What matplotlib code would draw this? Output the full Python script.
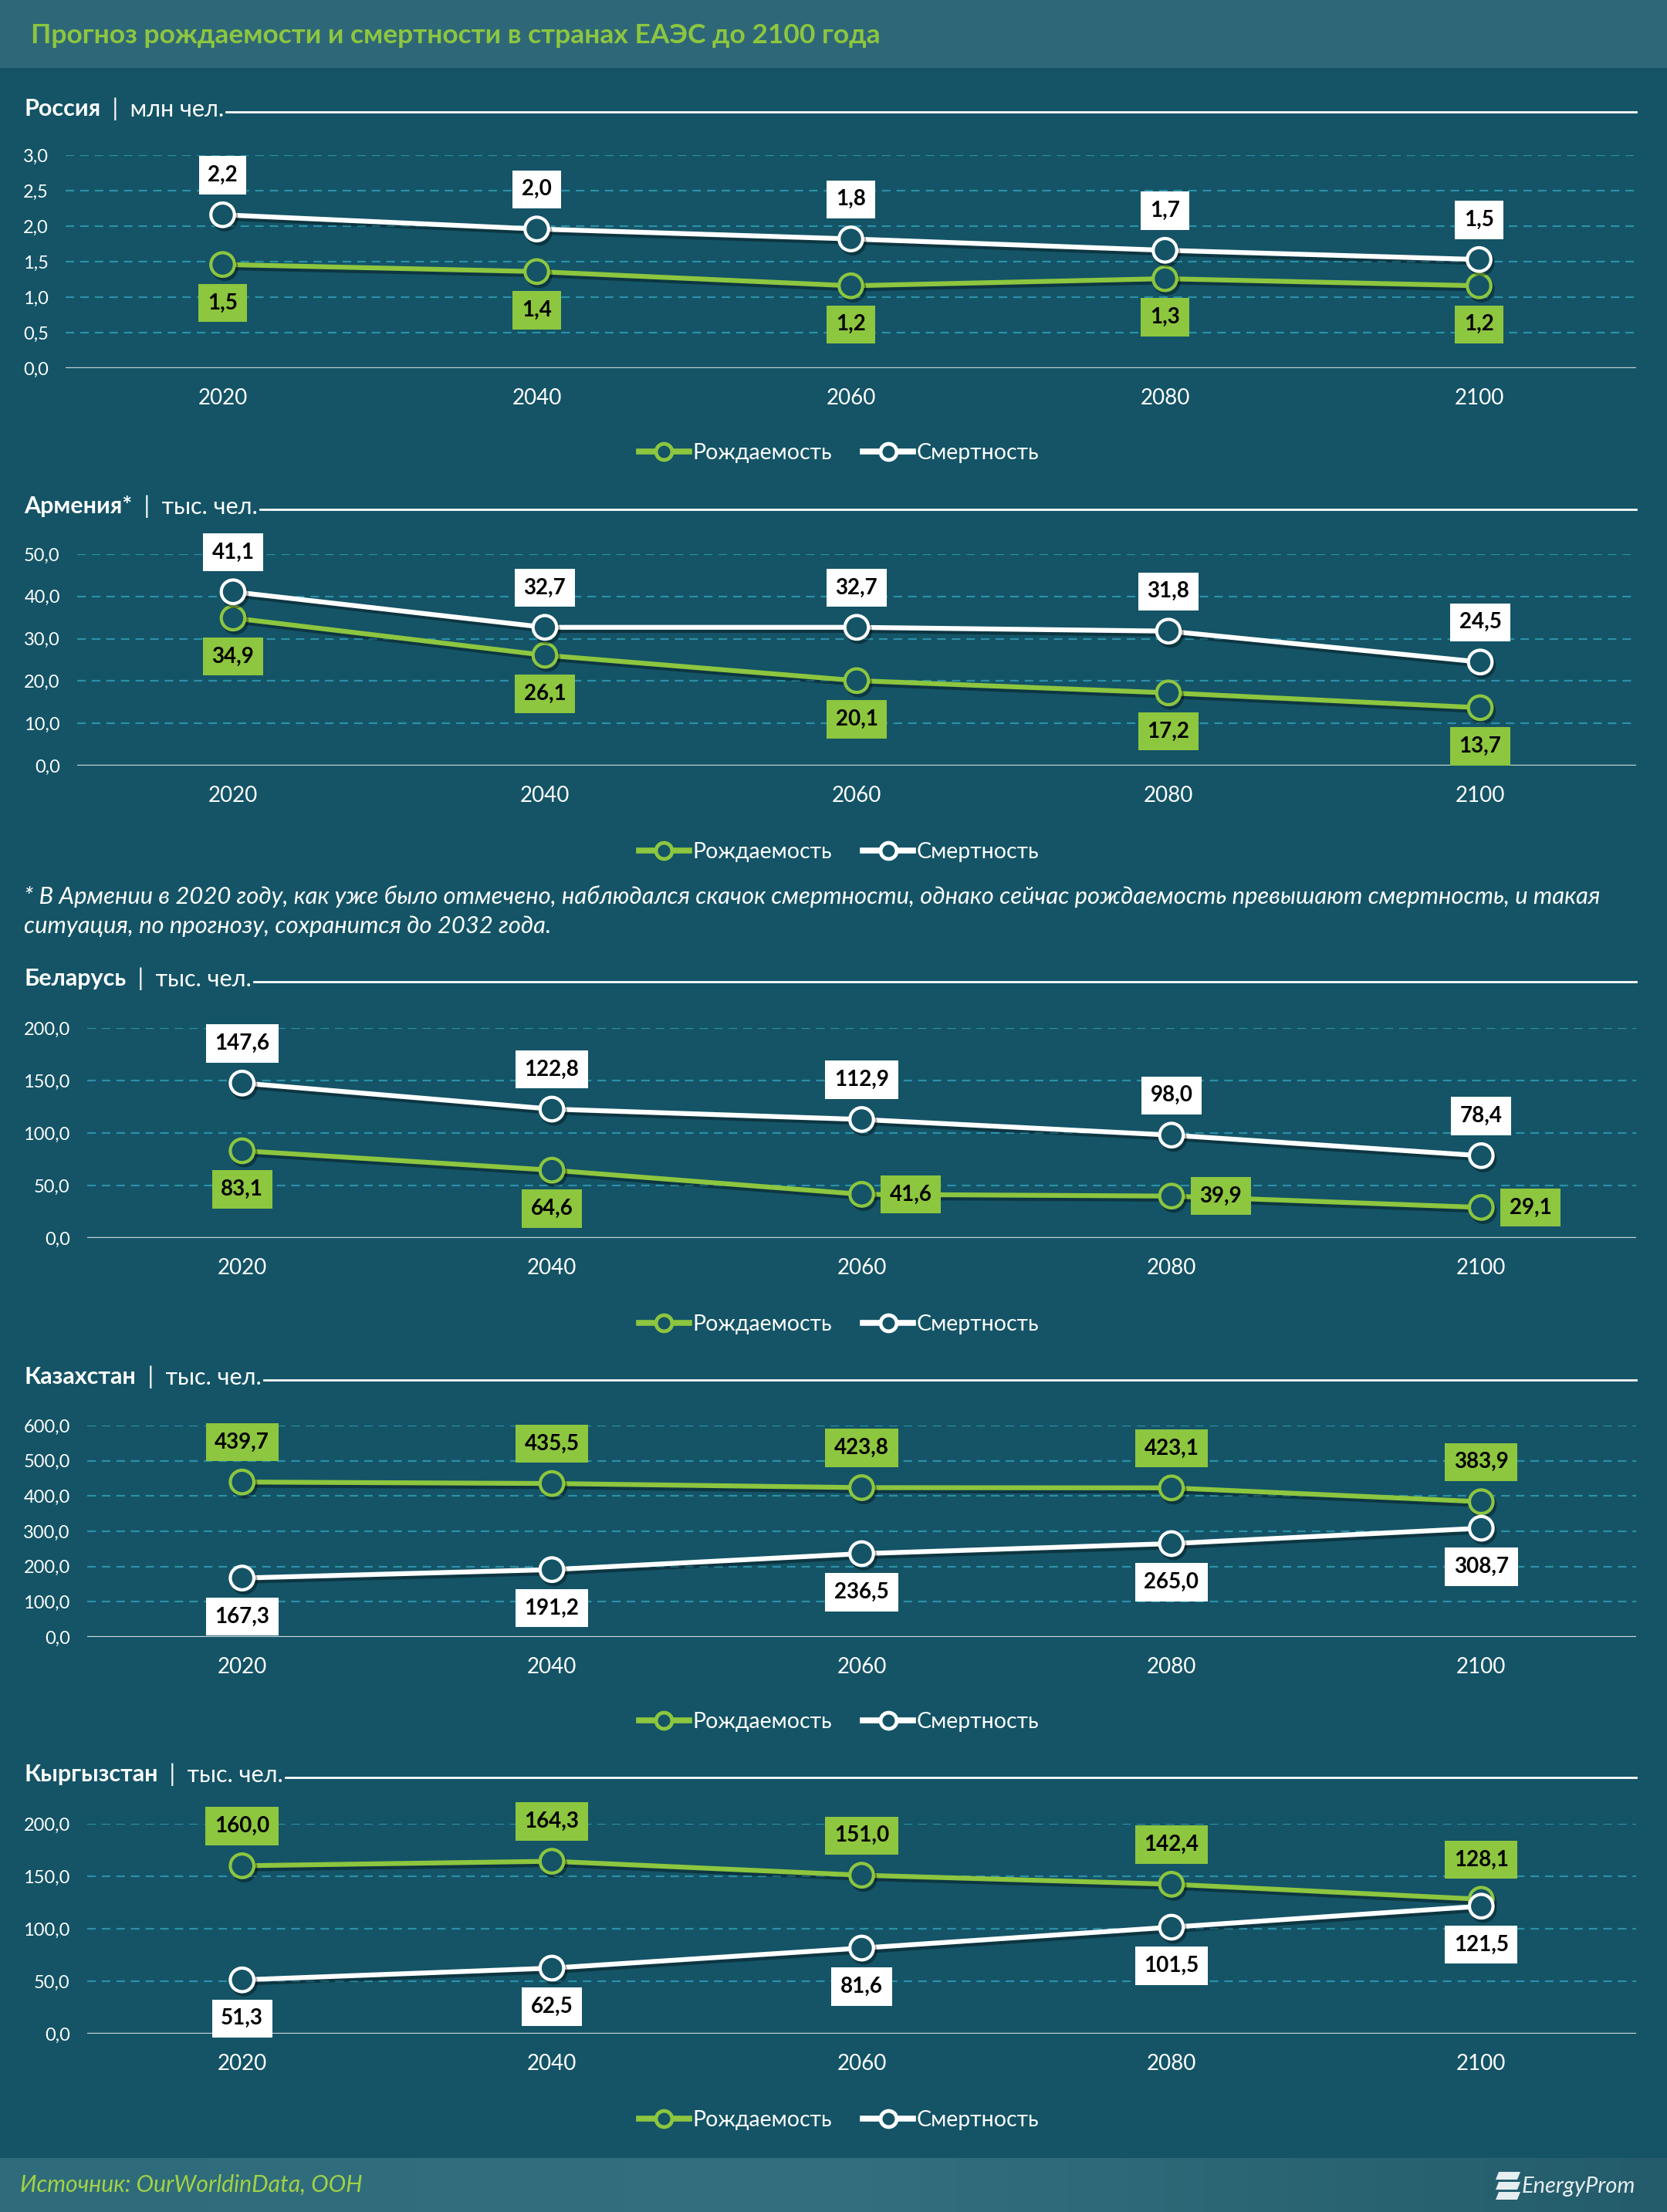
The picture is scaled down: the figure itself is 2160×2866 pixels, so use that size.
import matplotlib
matplotlib.use('Agg')
import matplotlib.pyplot as plt
import numpy as np
from matplotlib.lines import Line2D
from matplotlib.patches import Rectangle, Polygon
import matplotlib.patheffects as pe
from matplotlib.colors import LinearSegmentedColormap

plt.rcParams['font.family'] = ['Lato', 'Open Sans', 'DejaVu Sans']

# ---------------- data ----------------
years = ['2020', '2040', '2060', '2080', '2100']

russia_births = [1.46, 1.36, 1.16, 1.26, 1.16]
russia_deaths = [2.16, 1.96, 1.82, 1.66, 1.53]

armenia_births = [34.9, 26.1, 20.1, 17.2, 13.7]
armenia_deaths = [41.1, 32.7, 32.7, 31.8, 24.5]

belarus_births = [83.1, 64.6, 41.6, 39.9, 29.1]
belarus_deaths = [147.6, 122.8, 112.9, 98.0, 78.4]

kazakhstan_births = [439.7, 435.5, 423.8, 423.1, 383.9]
kazakhstan_deaths = [167.3, 191.2, 236.5, 265.0, 308.7]

kyrgyzstan_births = [160.0, 164.3, 151.0, 142.4, 128.1]
kyrgyzstan_deaths = [51.3, 62.5, 81.6, 101.5, 121.5]

russia_ticks = [0, 0.5, 1.0, 1.5, 2.0, 2.5, 3.0]
armenia_ticks = [0, 10, 20, 30, 40, 50]
belarus_ticks = [0, 50, 100, 150, 200]
kazakhstan_ticks = [0, 100, 200, 300, 400, 500, 600]
kyrgyzstan_ticks = [0, 50, 100, 150, 200]

legend_labels = ['Рождаемость', 'Смертность']
title = 'Прогноз рождаемости и смертности в странах ЕАЭС до 2100 года'
footnote1 = ('* В Армении в 2020 году, как уже было отмечено, наблюдался скачок смертности, '
             'однако сейчас рождаемость превышают смертность, и такая')
footnote2 = 'ситуация, по прогнозу, сохранится до 2032 года.'
source = 'Источник: OurWorldinData, ООН'

# ---------------- style ----------------
BG = '#145466'
TITLE_BG = '#2e6878'
GREEN = '#8dc63f'
WHITE = '#ffffff'
GRID = '#2b90a8'
ZERO = '#c9d4d7'

W, H = 2160, 2866
fig = plt.figure(figsize=(W / 100, H / 100), dpi=100)
fig.patch.set_facecolor(BG)


def fx(px):
    return px / W


def fy(py):
    return 1 - py / H


# title band
fig.add_artist(Rectangle((0, fy(88)), 1, 88 / H, transform=fig.transFigure,
                         facecolor=TITLE_BG, edgecolor='none', zorder=0))
fig.text(fx(40), fy(46), title, color=GREEN, fontsize=25.5, fontweight='bold',
         va='center', ha='left')

# footer band with gradient
fax = fig.add_axes([0, 0, 1, 70 / H])
cmap = LinearSegmentedColormap.from_list('f', ['#2f6c7b', '#32707f', '#245c6b'])
fax.imshow(np.linspace(0, 1, 256).reshape(1, -1), aspect='auto', cmap=cmap,
           extent=[0, 1, 0, 1])
fax.set_axis_off()
fig.text(fx(26), fy(2831), source, color='#a2d147', fontsize=21.8, style='italic',
         va='center', ha='left')
fig.text(fx(1972), fy(2833), 'EnergyProm', color='#e6eef0', fontsize=21,
         style='italic', va='center', ha='left')
for i in range(3):
    y0 = 2814 + i * 13
    pts = [(1938, y0 + 10), (1966, y0 + 10), (1970, y0), (1942, y0)]
    fig.add_artist(Polygon([(fx(a), fy(b)) for a, b in pts], closed=True,
                           transform=fig.transFigure, facecolor='#e6eef0',
                           edgecolor='none'))

renderer = fig.canvas.get_renderer()

panels = [
    dict(name='Россия', unit='  |  млн чел.', births=russia_births, deaths=russia_deaths,
         ticks=russia_ticks, left=85, top=201, bottom=477, hy=141, ly=587,
         bpos=['below'] * 5, dpos=['above'] * 5),
    dict(name='Армения*', unit='  |  тыс. чел.', births=armenia_births, deaths=armenia_deaths,
         ticks=armenia_ticks, left=100, top=718, bottom=992, hy=656, ly=1104,
         bpos=['below'] * 5, dpos=['above'] * 5),
    dict(name='Беларусь', unit='  |  тыс. чел.', births=belarus_births, deaths=belarus_deaths,
         ticks=belarus_ticks, left=113, top=1332, bottom=1604, hy=1268, ly=1716,
         bpos=['below', 'below', 'right', 'right', 'right'], dpos=['above'] * 5),
    dict(name='Казахстан', unit='  |  тыс. чел.', births=kazakhstan_births, deaths=kazakhstan_deaths,
         ticks=kazakhstan_ticks, left=113, top=1847, bottom=2121, hy=1784, ly=2231,
         bpos=['above'] * 5, dpos=['below'] * 5),
    dict(name='Кыргызстан', unit='  |  тыс. чел.', births=kyrgyzstan_births, deaths=kyrgyzstan_deaths,
         ticks=kyrgyzstan_ticks, left=113, top=2363, bottom=2635, hy=2299, ly=2747,
         bpos=['above'] * 5, dpos=['below'] * 5),
]

OFFS = {'above': (0, 37), 'below': (0, -36), 'right': (46, 0)}


def fmt(v):
    return f'{v:.1f}'.replace('.', ',')


shadow = [pe.SimpleLineShadow(offset=(2, -3), alpha=0.35, shadow_color='black'), pe.Normal()]

for p in panels:
    ax = fig.add_axes([fx(p['left']), fy(p['bottom']), fx(2120) - fx(p['left']),
                       (p['bottom'] - p['top']) / H])
    ax.set_facecolor('none')
    for s in ax.spines.values():
        s.set_visible(False)
    x = np.arange(len(years))
    ax.set_xlim(-0.5, len(years) - 0.5)
    ax.set_ylim(0, p['ticks'][-1])
    for t in p['ticks'][1:]:
        ax.axhline(t, color=GRID, lw=1.6, ls=(0, (5, 3.5)), zorder=1)
    ax.axhline(0, color=ZERO, lw=2.4, zorder=2)
    ax.set_yticks(p['ticks'], [fmt(t) for t in p['ticks']])
    ax.set_xticks(x, years)
    ax.tick_params(axis='y', length=0, pad=16, labelsize=17, labelcolor='white')
    ax.tick_params(axis='x', length=0, pad=19, labelsize=20, labelcolor='white')

    ax.plot(x, p['births'], color=GREEN, lw=4.5, marker='o', ms=22, mfc=BG, mec=GREEN,
            mew=3, zorder=4, path_effects=shadow, clip_on=False)
    ax.plot(x, p['deaths'], color=WHITE, lw=4.5, marker='o', ms=22, mfc=BG, mec=WHITE,
            mew=3, zorder=5, path_effects=shadow, clip_on=False)

    for xi, v, pos in zip(x, p['births'], p['bpos']):
        ax.annotate(fmt(v), (xi, v), xytext=OFFS[pos], textcoords='offset points',
                    ha='center', va='center', fontsize=20, fontweight='bold', color='black',
                    bbox=dict(boxstyle='square,pad=0.42', fc=GREEN, ec='none'),
                    zorder=7, annotation_clip=False)
    for xi, v, pos in zip(x, p['deaths'], p['dpos']):
        ax.annotate(fmt(v), (xi, v), xytext=OFFS[pos], textcoords='offset points',
                    ha='center', va='center', fontsize=20, fontweight='bold', color='black',
                    bbox=dict(boxstyle='square,pad=0.42', fc=WHITE, ec='none'),
                    zorder=7, annotation_clip=False)

    # header
    t1 = fig.text(fx(31), fy(p['hy']), p['name'], color='white', fontsize=22,
                  fontweight='bold', va='center', ha='left')
    bb = t1.get_window_extent(renderer)
    t2 = fig.text(bb.x1 / W, fy(p['hy']), p['unit'], color='white', fontsize=22,
                  va='center', ha='left')
    bb2 = t2.get_window_extent(renderer)
    fig.add_artist(Line2D([bb2.x1 / W + fx(3), fx(2120)], [fy(p['hy'] + 4)] * 2,
                          transform=fig.transFigure, color='white', lw=2))

    # legend
    handles = [Line2D([], [], color=GREEN, lw=5.5, marker='o', ms=15, mfc=BG, mec=GREEN, mew=3.5),
               Line2D([], [], color=WHITE, lw=5.5, marker='o', ms=15, mfc=BG, mec=WHITE, mew=3.5)]
    fig.legend(handles, legend_labels, loc='center', bbox_to_anchor=(fx(1087), fy(p['ly'])),
               ncol=2, frameon=False, fontsize=20.5, labelcolor='white', handlelength=2.3,
               handletextpad=0.15, columnspacing=1.4)

fig.text(fx(31), fy(1162), footnote1, color='white', fontsize=22.3, style='italic',
         va='center', ha='left')
fig.text(fx(31), fy(1200), footnote2, color='white', fontsize=22.3, style='italic',
         va='center', ha='left')

fig.savefig('out.png', dpi=100, facecolor=BG)
